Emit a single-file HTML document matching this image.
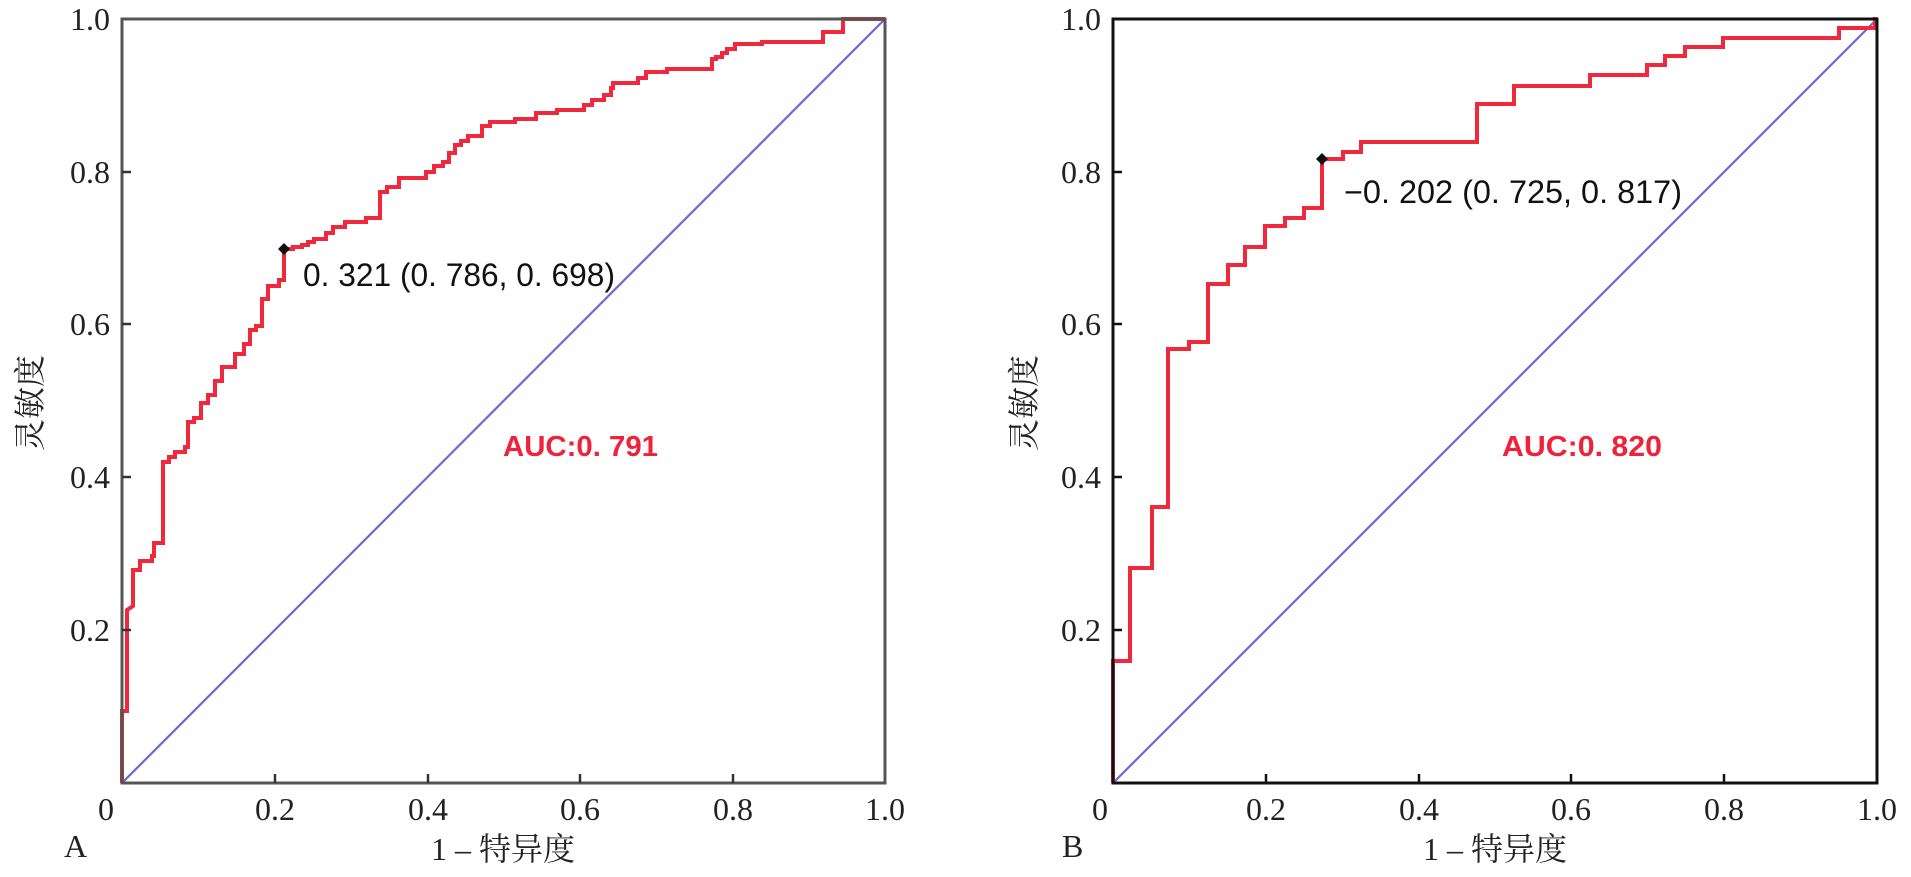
<!DOCTYPE html>
<html><head><meta charset="utf-8"><style>
html,body{margin:0;padding:0;background:#fff;}
svg{display:block;}
.t{font-family:"Liberation Serif","Noto Serif CJK SC",serif;font-size:32px;fill:#222;}
.s{font-family:"Liberation Sans","Noto Sans CJK SC",sans-serif;}
</style></head><body>
<svg width="1911" height="877" viewBox="0 0 1911 877" xmlns="http://www.w3.org/2000/svg">
<!-- Panel A -->
<g>
<line x1="122" y1="783" x2="885" y2="19" stroke="#6a6ad0" stroke-width="2.2"/>
<polyline fill="none" stroke="#f0283c" stroke-width="4" stroke-linejoin="miter" points="
122,783 122,711 127,711 127,610 133,606 133,570 140,570 140,561 152,561 152,556 154,556 154,543 163,543 163,462 169,462 169,457 175,457 175,452 185,452 185,447 188,447 188,422 194,422 194,418 201,418 201,403 208,403 208,395 215,395 215,381 222,381 222,367 235,367 235,354 244,354 244,344 250,344 250,330 256,330 256,326 262,326 262,299 268,299 268,286 279,286 279,280 284,280 284,249 293,249 293,247 302,247 302,245 308,245 308,242 314,242 314,239 326,239 326,233 333,233 333,227 345,227 345,222 366,222 366,218 380,218 380,192 387,192 387,187 399,187 399,178 426,178 426,172 434,172 434,166 443,166 443,162 449,162 449,153 455,153 455,145 461,145 461,141 468,141 468,136 482,136 482,126 490,126 490,122 515,122 515,119 536,119 536,113 557,113 557,110 584,110 584,105 592,105 592,100 604,100 604,95 611,95 611,88 613,88 613,83 638,83 638,78 646,78 646,72 667,72 667,69 712,69 712,59 716,59 716,57 722,57 722,53 727,53 727,49 735,49 735,44 762,44 762,42 823,42 823,32 843,32 843,19 885,19"/>
<rect x="122" y="19" width="763" height="764" fill="none" stroke="#555" stroke-width="3"/>
<g stroke="#333" stroke-width="2.5">
<line x1="122" y1="630" x2="131" y2="630"/><line x1="122" y1="477" x2="131" y2="477"/><line x1="122" y1="324" x2="131" y2="324"/><line x1="122" y1="172" x2="131" y2="172"/>
<line x1="275" y1="783" x2="275" y2="774"/><line x1="428" y1="783" x2="428" y2="774"/><line x1="580" y1="783" x2="580" y2="774"/><line x1="733" y1="783" x2="733" y2="774"/>
</g>
<path d="M284 243 L290 249 L284 255 L278 249 Z" fill="#111"/>
<text class="s" x="303" y="286" font-size="32" fill="#111" textLength="312" lengthAdjust="spacingAndGlyphs">0. 321 (0. 786, 0. 698)</text>
<text class="s" x="503" y="456" font-size="29" font-weight="bold" fill="#ee2238" textLength="155" lengthAdjust="spacingAndGlyphs">AUC:0. 791</text>
<g class="t" text-anchor="end">
<text x="110" y="641">0.2</text><text x="110" y="488">0.4</text><text x="110" y="335">0.6</text><text x="110" y="183">0.8</text><text x="110" y="30">1.0</text>
</g>
<g class="t" text-anchor="middle">
<text x="106" y="820">0</text><text x="275" y="820">0.2</text><text x="428" y="820">0.4</text><text x="580" y="820">0.6</text><text x="733" y="820">0.8</text><text x="885" y="820">1.0</text>
<text x="503" y="860">1 – 特异度</text>
</g>
<text class="t" x="64" y="857">A</text>
<text class="t" text-anchor="middle" transform="translate(41,403) rotate(-90)">灵敏度</text>
</g>
<!-- Panel B -->
<g>
<line x1="1113" y1="783" x2="1877" y2="19" stroke="#6a6ad0" stroke-width="2.2"/>
<polyline fill="none" stroke="#f0283c" stroke-width="4" points="
1113,783 1113,661 1130,661 1130,568 1152,568 1152,507 1168,507 1168,349 1189,349 1189,342 1208,342 1208,284 1228,284 1228,265 1245,265 1245,247 1265,247 1265,226 1285,226 1285,218 1304,218 1304,208 1322,208 1322,159 1343,159 1343,152 1361,152 1361,142 1477,142 1477,104 1514,104 1514,86 1590,86 1590,75 1647,75 1647,65 1665,65 1665,56 1685,56 1685,47 1723,47 1723,38 1839,38 1839,28 1875,28 1875,19 1877,19"/>
<rect x="1113" y="19" width="764" height="764" fill="none" stroke="#111" stroke-width="3"/>
<g stroke="#111" stroke-width="2.5">
<line x1="1113" y1="630" x2="1122" y2="630"/><line x1="1113" y1="477" x2="1122" y2="477"/><line x1="1113" y1="324" x2="1122" y2="324"/><line x1="1113" y1="172" x2="1122" y2="172"/>
<line x1="1266" y1="783" x2="1266" y2="774"/><line x1="1419" y1="783" x2="1419" y2="774"/><line x1="1571" y1="783" x2="1571" y2="774"/><line x1="1724" y1="783" x2="1724" y2="774"/>
</g>
<path d="M1322 153 L1328 159 L1322 165 L1316 159 Z" fill="#111"/>
<text class="s" x="1344" y="203" font-size="32" fill="#111" textLength="338" lengthAdjust="spacingAndGlyphs">−0. 202 (0. 725, 0. 817)</text>
<text class="s" x="1502" y="456" font-size="29" font-weight="bold" fill="#ee2238" textLength="160" lengthAdjust="spacingAndGlyphs">AUC:0. 820</text>
<g class="t" text-anchor="end">
<text x="1101" y="641">0.2</text><text x="1101" y="488">0.4</text><text x="1101" y="335">0.6</text><text x="1101" y="183">0.8</text><text x="1101" y="30">1.0</text>
</g>
<g class="t" text-anchor="middle">
<text x="1100" y="820">0</text><text x="1266" y="820">0.2</text><text x="1419" y="820">0.4</text><text x="1571" y="820">0.6</text><text x="1724" y="820">0.8</text><text x="1877" y="820">1.0</text>
<text x="1495" y="860">1 – 特异度</text>
</g>
<text class="t" x="1062" y="857">B</text>
<text class="t" text-anchor="middle" transform="translate(1035,403) rotate(-90)">灵敏度</text>
</g>
</svg>
</body></html>
